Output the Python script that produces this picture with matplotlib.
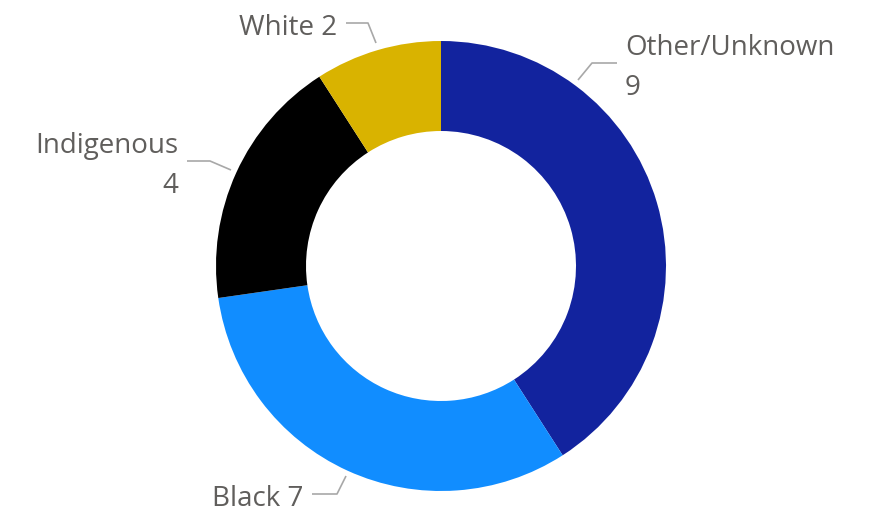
import matplotlib
matplotlib.use("Agg")
import matplotlib.pyplot as plt

categories = ["Other/Unknown", "Black", "Indigenous", "White"]
values = [9, 7, 4, 2]
colors = ["#12239E", "#118DFF", "#000000", "#D9B300"]

W, H = 875, 513
fig = plt.figure(figsize=(W / 100, H / 100), dpi=100)
ax = fig.add_axes([0, 0, 1, 1])
ax.set_xlim(0, W)
ax.set_ylim(0, H)
ax.set_aspect("equal")
ax.axis("off")

def Y(py):
    return H - py

cx, cy, R = 441, 266, 225
ax.pie(values, colors=colors, startangle=90, counterclock=False,
       center=(cx, Y(cy)), radius=R, frame=True,
       wedgeprops=dict(width=90, linewidth=0))
ax.set_xlim(0, W)
ax.set_ylim(0, H)
ax.axis("off")

tc = "#605E5C"
lc = "#A8A8A8"
fs = 20
fam = ["Open Sans", "DejaVu Sans"]

def line(pts):
    xs = [p[0] for p in pts]
    ys = [Y(p[1]) for p in pts]
    ax.plot(xs, ys, color=lc, lw=1.2, solid_capstyle="butt")

# Other/Unknown
line([(578, 80), (592, 63), (617, 63)])
ax.text(625, Y(55), categories[0], ha="left", va="baseline", fontsize=fs, color=tc, family=fam)
ax.text(625, Y(95), str(values[0]), ha="left", va="baseline", fontsize=fs, color=tc, family=fam)
# Indigenous
line([(187, 161), (210, 161), (231, 170)])
ax.text(178, Y(153), categories[2], ha="right", va="baseline", fontsize=fs, color=tc, family=fam)
ax.text(178, Y(193), str(values[2]), ha="right", va="baseline", fontsize=fs, color=tc, family=fam)
# Black
line([(312, 494), (337, 494), (346, 476)])
ax.text(303, Y(506), f"{categories[1]} {values[1]}", ha="right", va="baseline", fontsize=fs, color=tc, family=fam)
# White
line([(346, 23), (368, 23), (376, 43)])
ax.text(337, Y(35), f"{categories[3]} {values[3]}", ha="right", va="baseline", fontsize=fs, color=tc, family=fam)

fig.savefig("out.png", dpi=100)
